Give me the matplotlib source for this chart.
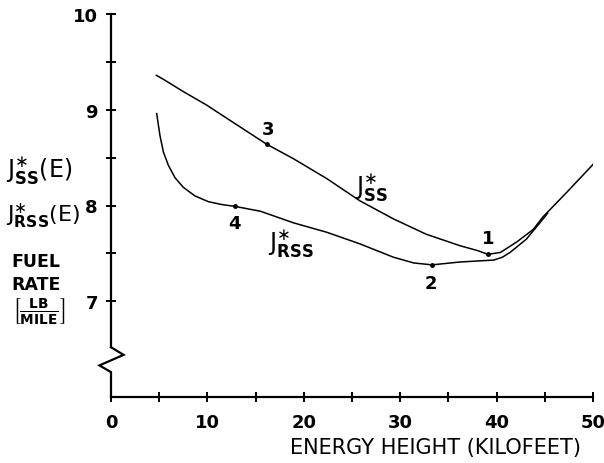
import numpy as np
import matplotlib
matplotlib.use('Agg')
import matplotlib.pyplot as plt

plt.rcParams['mathtext.fontset'] = 'dejavusans'

# J*_SS(E) curve
ss_x = [4.7, 5.4, 7.5, 9.9, 13.4, 16.15, 18.9, 22.4, 25.8, 29.3, 32.7, 36.2, 38.0, 39.1,
        40.4, 42.1, 43.8, 44.8, 47.3, 50.2]
ss_y = [9.36, 9.32, 9.19, 9.05, 8.82, 8.64, 8.49, 8.28, 8.05, 7.86, 7.70, 7.58, 7.53, 7.49,
        7.51, 7.62, 7.75, 7.88, 8.14, 8.45]

# J*_RSS(E) curve
rss_x = [4.74, 5.08, 5.43, 5.95, 6.64, 7.5, 8.71, 10.1, 11.5, 12.9, 15.5, 18.9, 22.4,
         25.8, 29.3, 31.4, 33.3, 36.2, 39.7, 40.6, 41.4, 43.1, 44.5, 45.3]
rss_y = [8.96, 8.73, 8.56, 8.42, 8.29, 8.19, 8.10, 8.04, 8.01, 7.99, 7.94, 7.82, 7.72,
         7.60, 7.46, 7.40, 7.38, 7.41, 7.43, 7.46, 7.51, 7.65, 7.82, 7.92]

# numbered points
pt_labels = ['1', '2', '3', '4']
pt_x = [39.1, 33.3, 16.15, 12.9]
pt_y = [7.49, 7.38, 8.64, 7.99]

x_ticks = [0, 10, 20, 30, 40, 50]
y_ticks = [7, 8, 9, 10]

W, H = 604, 464
fig = plt.figure(figsize=(W / 100, H / 100), dpi=100)
ax = fig.add_axes([111 / W, 1 - 398 / H, 482 / W, 383 / H])

ax.plot(ss_x, ss_y, color='black', lw=1.1)
ax.plot(rss_x, rss_y, color='black', lw=1.1)
ax.plot(pt_x, pt_y, 'o', color='black', ms=2.5)

offsets = [(0, 12), (-1, -13), (1, 11), (-1, -12)]
for lab, x, y, off in zip(pt_labels, pt_x, pt_y, offsets):
    ax.annotate(lab, (x, y), xytext=off, textcoords='offset points',
                ha='center', va='center', fontsize=13, fontweight='bold')

ax.text(25.3, 8.2, r'$\mathrm{J}^{\ast}_{\mathbf{SS}}$', fontsize=17, ha='left', va='center')
ax.text(16.3, 7.62, r'$\mathrm{J}^{\ast}_{\mathbf{RSS}}$', fontsize=17, ha='left', va='center')

ax.set_xlim(0, 50)
ax.set_ylim(6, 10)
for s in ['top', 'right']:
    ax.spines[s].set_visible(False)
ax.spines['left'].set_linewidth(1.6)
ax.spines['bottom'].set_linewidth(1.6)
ax.spines['left'].set_bounds(6.52, 10)

# axis break zigzag
ax.plot([0, 1.3, -1.2, 0, 0], [6.52, 6.44, 6.33, 6.26, 6.0],
        color='black', lw=1.6, clip_on=False, solid_joinstyle='miter')

ax.set_xticks(np.arange(0, 51, 5), minor=False)
ax.set_xticklabels([str(t) if t in x_ticks else '' for t in range(0, 51, 5)])
ax.set_yticks(y_ticks)
ax.set_yticks([7.5, 8.5, 9.5], minor=True)
ax.tick_params(axis='both', which='both', direction='inout', length=7, width=1.4,
               labelsize=13)
ax.tick_params(axis='x', pad=8)
ax.tick_params(axis='y', pad=6)
for lbl in ax.get_xticklabels() + ax.get_yticklabels():
    lbl.set_fontweight('bold')

def ft(x, y, s, **kw):
    fig.text(x / W, 1 - y / H, s, **kw)

ft(436, 448, 'ENERGY HEIGHT (KILOFEET)', fontsize=15, ha='center', va='center')
ft(6, 170, r'$\mathrm{J}^{\ast}_{\mathbf{SS}}$(E)', fontsize=17, ha='left', va='center')
ft(6, 216, r'$\mathrm{J}^{\ast}_{\mathbf{RSS}}$(E)', fontsize=16, ha='left', va='center')
ft(11, 262, 'FUEL', fontsize=12.5, fontweight='bold', ha='left', va='center')
ft(11, 285, 'RATE', fontsize=12.5, fontweight='bold', ha='left', va='center')
ft(12, 311, r'$\left[\frac{\mathbf{LB}}{\mathbf{MILE}}\right]$', fontsize=14,
   ha='left', va='center')

fig.savefig('out.png', dpi=100)
